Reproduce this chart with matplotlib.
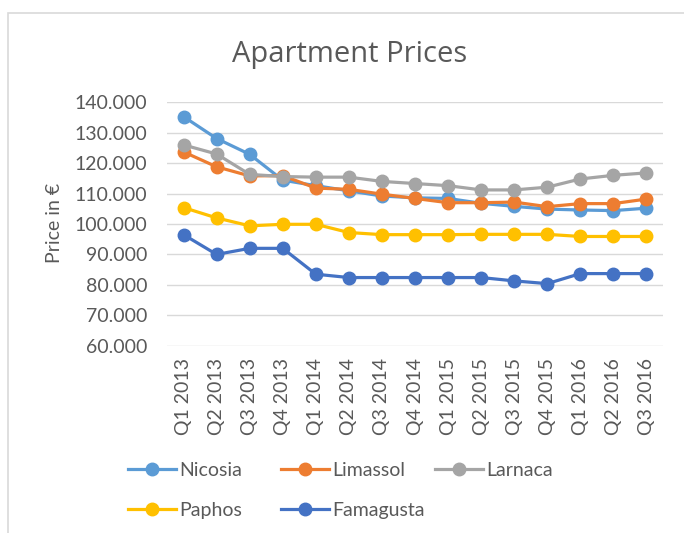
import matplotlib.pyplot as plt
from matplotlib.patches import Rectangle

plt.rcParams['font.family'] = ['Lato', 'DejaVu Sans']

quarters = ['Q1 2013', 'Q2 2013', 'Q3 2013', 'Q4 2013',
            'Q1 2014', 'Q2 2014', 'Q3 2014', 'Q4 2014',
            'Q1 2015', 'Q2 2015', 'Q3 2015', 'Q4 2015',
            'Q1 2016', 'Q2 2016', 'Q3 2016']

# prices in thousands of euro
nicosia = [135.3, 128.1, 122.9, 114.4, 112.6, 110.9, 109.2, 108.6,
           108.4, 106.8, 105.8, 104.9, 104.6, 104.4, 105.2]
limassol = [123.7, 118.8, 115.8, 115.9, 111.8, 111.4, 109.8, 108.4,
            107.0, 107.0, 107.2, 105.7, 106.7, 106.7, 108.2]
larnaca = [126.0, 123.0, 116.3, 115.6, 115.4, 115.4, 114.0, 113.3,
           112.6, 111.2, 111.2, 112.1, 114.8, 116.0, 116.8]
paphos = [105.4, 102.0, 99.4, 99.9, 99.9, 97.2, 96.5, 96.5,
          96.5, 96.6, 96.6, 96.6, 95.9, 95.9, 95.9]
famagusta = [96.5, 90.0, 92.0, 92.0, 83.5, 82.4, 82.4, 82.4,
             82.4, 82.4, 81.3, 80.4, 83.7, 83.7, 83.7]

names = ['Nicosia', 'Limassol', 'Larnaca', 'Paphos', 'Famagusta']
series = [nicosia, limassol, larnaca, paphos, famagusta]
colors = ['#5B9BD5', '#ED7D31', '#A5A5A5', '#FFC000', '#4472C4']

txt = '#595959'

fig = plt.figure(figsize=(6.84, 5.33), dpi=100)
ax = fig.add_axes([167/684, 1 - 345.7/533, 496/684, 243.4/533])

x = list(range(len(quarters)))
handles = []
for name, vals, c in zip(names, series, colors):
    ln, = ax.plot(x, vals, color=c, lw=2.3, marker='o', ms=9, label=name)
    handles.append(ln)

ax.set_xlim(-0.5, len(quarters) - 0.5)
ax.set_ylim(60, 140)
ax.set_yticks(range(60, 141, 10))
ax.set_yticklabels(['%d.000' % v for v in range(60, 141, 10)])
ax.set_xticks(x)
ax.set_xticklabels(quarters, rotation=90)
ax.tick_params(axis='both', length=0, labelsize=14, colors=txt)
ax.tick_params(axis='y', pad=14)
ax.tick_params(axis='x', pad=9)
ax.grid(axis='y', color='#d9d9d9', lw=1)
ax.set_axisbelow(True)
for s in ax.spines.values():
    s.set_visible(False)

fig.text(349.5/684, 1 - 62/533, 'Apartment Prices', ha='center', va='baseline',
         fontsize=21, color=txt, family=['Open Sans', 'DejaVu Sans'])
fig.text(54/684, 1 - 223/533, 'Price in €', rotation=90, ha='center', va='center',
         fontsize=14, color=txt)

# legend laid out as three separate columns
col_x = [118, 271, 425]
cols = [[0, 3], [1, 4], [2]]
for cx, idx in zip(col_x, cols):
    leg = fig.legend([handles[i] for i in idx], [names[i] for i in idx],
                     loc='upper left', bbox_to_anchor=(cx/684, 1 - 452/533),
                     frameon=False, fontsize=14, handlelength=2.5,
                     handletextpad=0.15, labelspacing=1.2, borderpad=0)
    for t in leg.get_texts():
        t.set_color(txt)

fig.add_artist(Rectangle((8/684, -0.1), 1.2, 1.1 - 13/533, transform=fig.transFigure,
                         fill=False, ec='#d9d9d9', lw=1.2))

fig.savefig('out.png', dpi=100)
